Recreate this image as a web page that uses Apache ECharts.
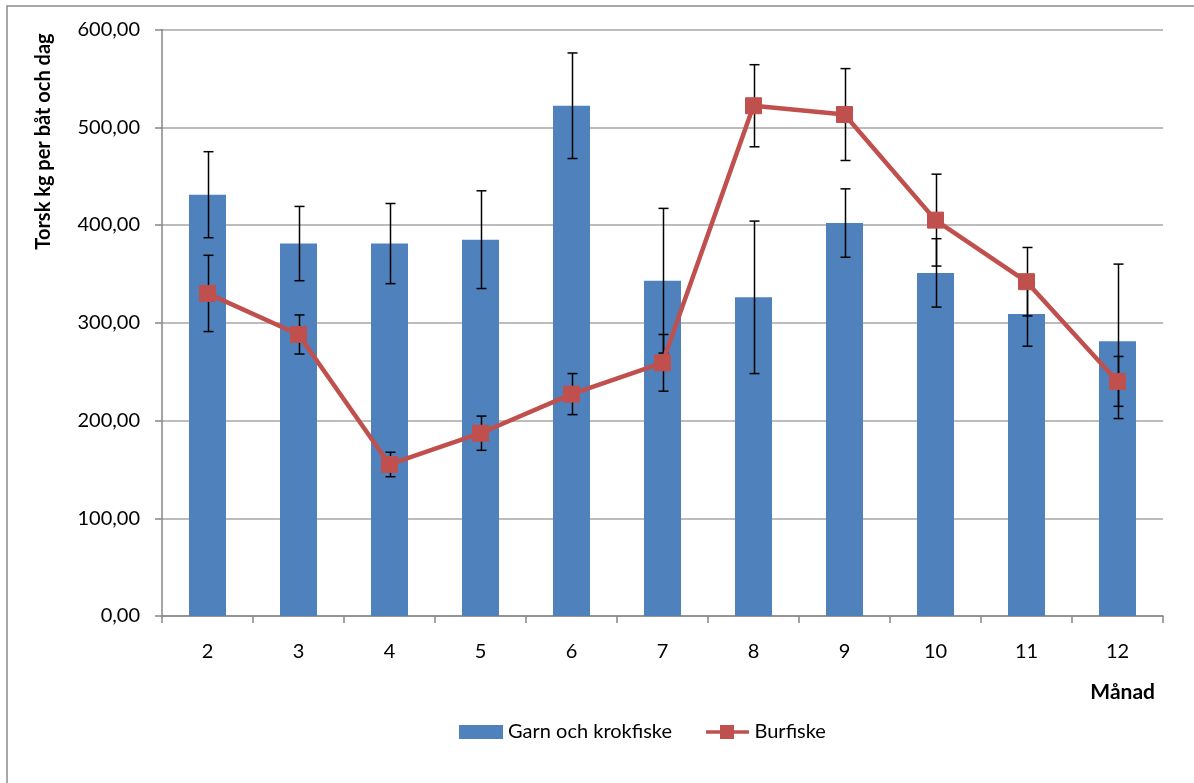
<!DOCTYPE html>
<html>
<head>
<meta charset="utf-8">
<script src="https://cdn.jsdelivr.net/npm/echarts@6/dist/echarts.min.js"></script>
<style>
html,body{margin:0;padding:0;background:#fff;}
#chart{width:1194px;height:783px;}
</style>
</head>
<body>
<div id="chart"></div>
<script>
var categories = ['2','3','4','5','6','7','8','9','10','11','12'];
var garnValues = [431, 381, 381, 385, 522, 343, 326, 402, 351, 309, 281];
var garnErrors = [44, 38, 41, 50, 54, 74, 78, 35, 35, 33, 79];
var burValues = [330, 288, 155, 187, 227, 259, 522, 513, 405, 342, 240];
var burErrors = [39, 20, 12.5, 17.5, 21, 29, 42, 47, 47, 35, 25.5];
var yTicks = [0, 100, 200, 300, 400, 500, 600];

var FONT = 'Lato';

function errData(vals, errs) {
  return vals.map(function (v, i) { return [i, v - errs[i], v + errs[i]]; });
}
function errRender(params, api) {
  var x = api.value(0);
  var lo = api.coord([x, api.value(1)]);
  var hi = api.coord([x, api.value(2)]);
  var cx = Math.round(lo[0]) + 0.5;
  var cap = 5;
  var st = { stroke: '#000', lineWidth: 1.5 };
  return {
    type: 'group',
    children: [
      { type: 'line', shape: { x1: cx, y1: lo[1], x2: cx, y2: hi[1] }, style: st },
      { type: 'line', shape: { x1: cx - cap, y1: lo[1], x2: cx + cap, y2: lo[1] }, style: st },
      { type: 'line', shape: { x1: cx - cap, y1: hi[1], x2: cx + cap, y2: hi[1] }, style: st }
    ]
  };
}

var lineIcon = 'path://M0,5.5 L15,5.5 L15,0 L30,0 L30,5.5 L46,5.5 L46,9.5 L30,9.5 L30,15 L15,15 L15,9.5 L0,9.5 Z';

var chart = echarts.init(document.getElementById('chart'));
chart.setOption({
  animation: false,
  backgroundColor: '#fff',
  textStyle: { fontFamily: FONT },
  grid: { left: 162, right: 31, top: 29.5, bottom: 167, containLabel: false },
  legend: {
    top: 717,
    left: 454,
    itemGap: 34,
    itemWidth: 44,
    itemHeight: 14,
    textStyle: { fontFamily: FONT, fontSize: 20, color: '#000' },
    data: [
      { name: 'Garn och krokfiske', icon: 'rect' },
      { name: 'Burfiske', icon: lineIcon, itemStyle: { color: '#c0504d' } }
    ]
  },
  xAxis: {
    type: 'category',
    data: categories,
    boundaryGap: true,
    axisLine: { lineStyle: { color: '#868686', width: 1.5 } },
    axisTick: { show: true, length: 7, lineStyle: { color: '#868686', width: 1.5 } },
    axisLabel: { color: '#000', fontSize: 20, fontFamily: FONT, margin: 26 }
  },
  yAxis: {
    type: 'value',
    min: 0,
    max: 600,
    interval: 100,
    axisLine: { show: true, lineStyle: { color: '#868686', width: 1.5 } },
    axisTick: { show: true, length: 7, lineStyle: { color: '#868686', width: 1.5 } },
    splitLine: { lineStyle: { color: '#a6a6a6', width: 1.5 } },
    axisLabel: {
      color: '#000', fontSize: 20, fontFamily: FONT, margin: 22,
      formatter: function (v) { return v.toFixed(2).replace('.', ','); }
    }
  },
  graphic: [
    { type: 'rect', shape: { x: 7, y: 6, width: 1300, height: 900 },
      style: { fill: 'none', stroke: '#8c8c8c', lineWidth: 1.5 }, z: -1, silent: true },
    { type: 'text', x: 44, y: 141.5, rotation: Math.PI / 2,
      style: { text: 'Torsk kg per båt och dag', fontFamily: FONT, fontWeight: 'bold', fontSize: 20,
        fill: '#000', align: 'center', verticalAlign: 'middle' } },
    { type: 'text', x: 1155, y: 692,
      style: { text: 'Månad', fontFamily: FONT, fontWeight: 'bold', fontSize: 21,
        fill: '#000', align: 'right', verticalAlign: 'middle' } }
  ],
  series: [
    {
      name: 'Garn och krokfiske',
      type: 'bar',
      data: garnValues,
      barWidth: 37,
      itemStyle: { color: '#4f81bd' },
      z: 1
    },
    {
      name: 'garnErr',
      type: 'custom',
      renderItem: errRender,
      data: errData(garnValues, garnErrors),
      encode: { x: 0, y: [1, 2] },
      z: 2,
      silent: true
    },
    {
      name: 'burErr',
      type: 'custom',
      renderItem: errRender,
      data: errData(burValues, burErrors),
      encode: { x: 0, y: [1, 2] },
      z: 3,
      silent: true
    },
    {
      name: 'Burfiske',
      type: 'line',
      data: burValues,
      symbol: 'rect',
      symbolSize: 16,
      lineStyle: { color: '#c0504d', width: 4.5 },
      itemStyle: { color: '#c0504d', borderColor: '#c0504d' },
      z: 4
    }
  ]
});
</script>
</body>
</html>
